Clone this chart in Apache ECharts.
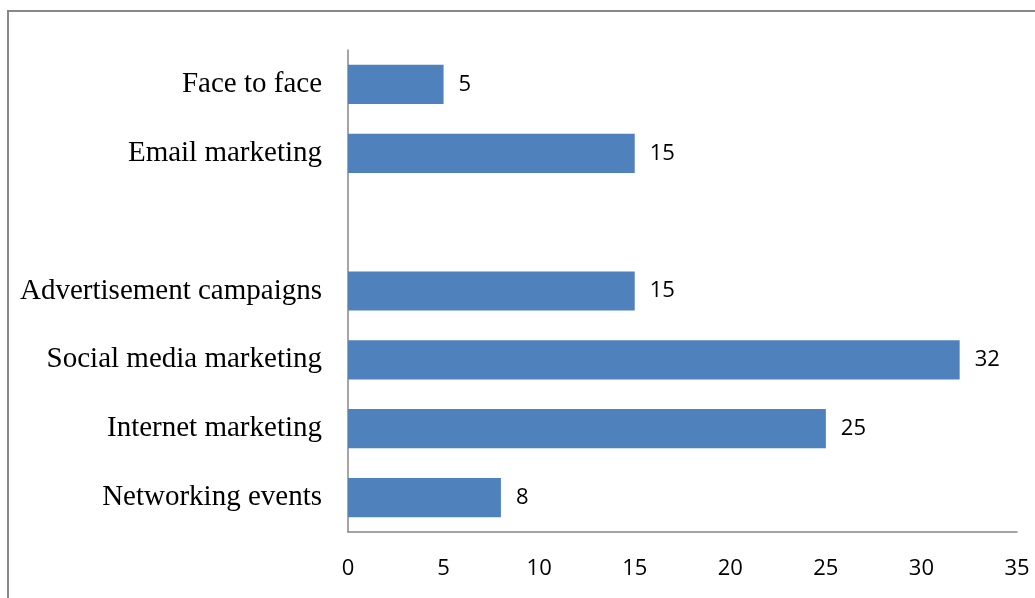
<!DOCTYPE html>
<html>
<head>
<meta charset="utf-8">
<script src="https://cdn.jsdelivr.net/npm/echarts@6/dist/echarts.min.js"></script>
<style>
  html, body { margin: 0; padding: 0; background: #fff; }
  #chart { width: 1035px; height: 598px; }
</style>
</head>
<body>
<div id="chart"></div>
<script>
// Channels, listed bottom to top; the empty entry leaves a gap row.
const categories = [
  'Networking events',
  'Internet marketing',
  'Social media marketing',
  'Advertisement campaigns',
  '',
  'Email marketing',
  'Face to face'
];
const counts = [8, 25, 32, 15, null, 15, 5];
const xTicks = { min: 0, max: 35, interval: 5 };

const chart = echarts.init(document.getElementById('chart'), null, { renderer: 'canvas' });

chart.setOption({
  animation: false,
  backgroundColor: '#ffffff',
  graphic: [{
    type: 'rect',
    shape: { x: 8, y: 11, width: 1200, height: 800 },
    style: { fill: 'none', stroke: '#888888', lineWidth: 2 },
    silent: true,
    z: -1
  }],
  grid: { left: 348, right: 18, top: 50, bottom: 66, containLabel: false },
  xAxis: {
    type: 'value',
    min: xTicks.min,
    max: xTicks.max,
    interval: xTicks.interval,
    axisLine: { show: true, onZero: false, lineStyle: { color: '#878787', width: 1.5 } },
    axisTick: { show: false },
    splitLine: { show: false },
    axisLabel: {
      color: '#000',
      fontFamily: 'Open Sans',
      fontSize: 22,
      margin: 26
    }
  },
  yAxis: {
    type: 'category',
    data: categories,
    axisLine: { show: true, lineStyle: { color: '#878787', width: 1.5 } },
    axisTick: { show: false },
    splitLine: { show: false },
    axisLabel: {
      color: '#000',
      fontFamily: 'Liberation Serif',
      fontSize: 29,
      margin: 26,
      padding: [6, 0, 0, 0]
    }
  },
  series: [{
    type: 'bar',
    data: counts,
    barCategoryGap: '43%',
    itemStyle: { color: '#4F81BD' },
    label: {
      show: true,
      position: 'right',
      distance: 15,
      color: '#000',
      fontFamily: 'Open Sans',
      fontSize: 22,
      padding: [4, 0, 0, 0]
    }
  }]
});
</script>
</body>
</html>
